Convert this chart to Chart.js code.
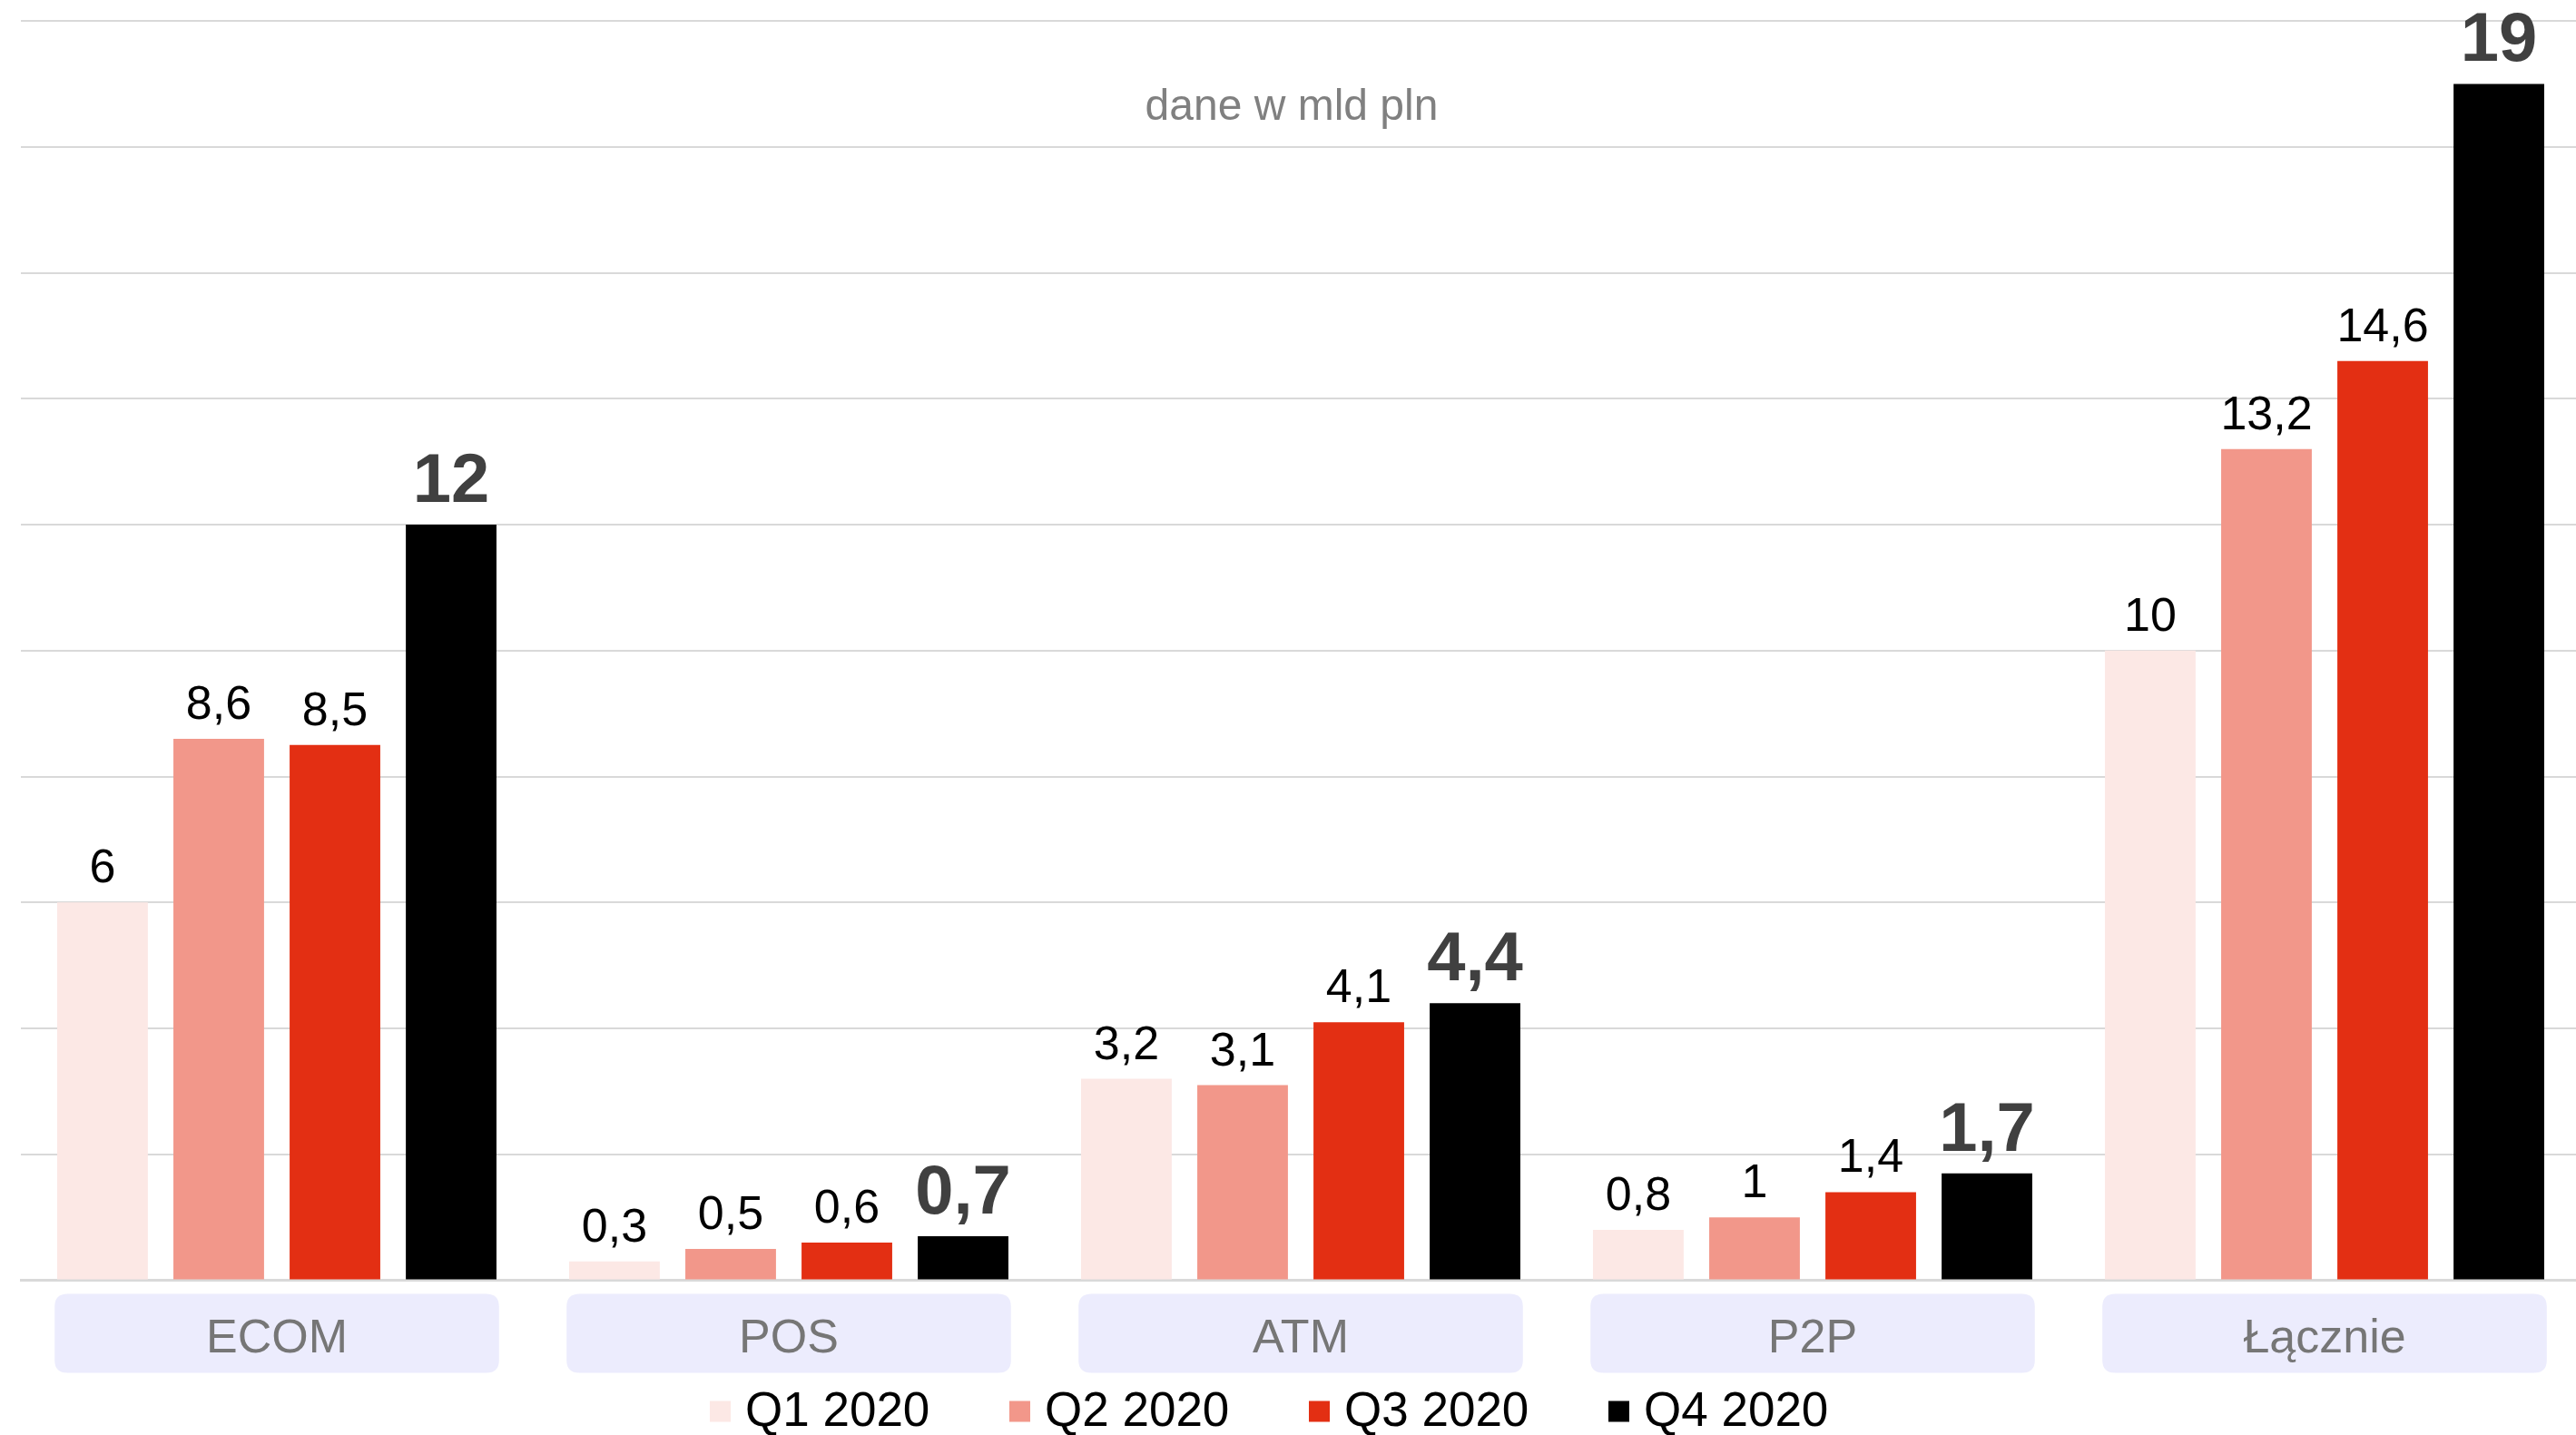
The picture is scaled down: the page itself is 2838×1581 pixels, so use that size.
<!DOCTYPE html>
<html>
<head>
<meta charset="utf-8">
<script src="https://cdn.jsdelivr.net/npm/chart.js@4/dist/chart.umd.min.js"></script>
<style>
  html, body { margin:0; padding:0; background:#ffffff; overflow:hidden; }
  #wrap { width:2843px; height:1581px; position:relative; }
</style>
</head>
<body>
<div id="wrap"><canvas id="kartyChart"></canvas></div>
<script>
// --- datos ---
const categorias = ['ECOM', 'POS', 'ATM', 'P2P', 'Łącznie'];
const etiquetas = ['Q1 2020', 'Q2 2020', 'Q3 2020', 'Q4 2020'];
const q1 = [6, 0.3, 3.2, 0.8, 10];
const q2 = [8.6, 0.5, 3.1, 1, 13.2];
const q3 = [8.5, 0.6, 4.1, 1.4, 14.6];
const q4 = [12, 0.7, 4.4, 1.7, 19];
const colores = ['#FCE8E5', '#F2978A', '#E32F13', '#000000'];
const yTicks = [0, 2, 4, 6, 8, 10, 12, 14, 16, 18, 20];
const subtitulo = 'dane w mld pln';

const FONT = '"Liberation Sans", Arial, sans-serif';

function fmt(v) {
  return String(v).replace('.', ',');
}

function roundRect(ctx, x, y, w, h, r) {
  ctx.beginPath();
  ctx.moveTo(x + r, y);
  ctx.lineTo(x + w - r, y);
  ctx.quadraticCurveTo(x + w, y, x + w, y + r);
  ctx.lineTo(x + w, y + h - r);
  ctx.quadraticCurveTo(x + w, y + h, x + w - r, y + h);
  ctx.lineTo(x + r, y + h);
  ctx.quadraticCurveTo(x, y + h, x, y + h - r);
  ctx.lineTo(x, y + r);
  ctx.quadraticCurveTo(x, y, x + r, y);
  ctx.closePath();
}

// cajas lila detras de las etiquetas del eje X
const cajasPlugin = {
  id: 'cajas',
  beforeDraw(chart) {
    const ctx = chart.ctx;
    const xs = chart.scales.x;
    const ca = chart.chartArea;
    const ancho = (ca.right - ca.left) / categorias.length * 0.868;
    ctx.save();
    ctx.fillStyle = '#ECECFD';
    categorias.forEach((c, i) => {
      const cx = xs.getPixelForValue(i);
      roundRect(ctx, cx - ancho / 2, ca.bottom + 15, ancho, 87, 14);
      ctx.fill();
    });
    ctx.restore();
  }
};

// valores encima de las barras + subtitulo
const valoresPlugin = {
  id: 'valores',
  afterDatasetsDraw(chart) {
    const ctx = chart.ctx;
    ctx.save();
    ctx.textAlign = 'center';
    ctx.textBaseline = 'alphabetic';
    chart.data.datasets.forEach((ds, di) => {
      const meta = chart.getDatasetMeta(di);
      const ultimo = di === chart.data.datasets.length - 1;
      ctx.font = ultimo ? 'bold 76px ' + FONT : '52px ' + FONT;
      ctx.fillStyle = ultimo ? '#404040' : '#000000';
      meta.data.forEach((bar, i) => {
        ctx.fillText(fmt(ds.data[i]), bar.x, bar.y - (ultimo ? 25 : 22));
      });
    });
    const ca = chart.chartArea;
    ctx.font = '48px ' + FONT;
    ctx.fillStyle = '#808080';
    ctx.fillText(subtitulo, 1423, ca.top + 109);
    ctx.restore();
  }
};

// leyenda propia abajo
const leyendaPlugin = {
  id: 'leyenda',
  afterDraw(chart) {
    const ctx = chart.ctx;
    const caja = 23, sep = 16, paso = 330;
    ctx.save();
    ctx.font = '53px ' + FONT;
    ctx.textBaseline = 'middle';
    ctx.textAlign = 'left';
    const ds = chart.data.datasets;
    let x = 782;
    const y = 1555;
    ds.forEach((d) => {
      ctx.fillStyle = d.backgroundColor;
      ctx.fillRect(x, y - caja / 2, caja, caja);
      ctx.fillStyle = '#000000';
      ctx.fillText(d.label, x + caja + sep, y + 1);
      x += paso;
    });
    ctx.restore();
  }
};

const series = [q1, q2, q3, q4];
const ctx = document.getElementById('kartyChart').getContext('2d');
new Chart(ctx, {
  type: 'bar',
  data: {
    labels: categorias,
    datasets: series.map((s, i) => ({
      label: etiquetas[i],
      data: s,
      backgroundColor: colores[i],
      borderWidth: 0,
      categoryPercentage: 0.908,
      barPercentage: 0.78
    }))
  },
  options: {
    animation: false,
    responsive: true,
    maintainAspectRatio: false,
    layout: { padding: { top: 23, left: 23, right: 0, bottom: 40 } },
    scales: {
      x: {
        grid: { display: false, drawTicks: false, tickLength: 0 },
        border: { display: true, color: '#D9D9D9', width: 3 },
        ticks: {
          color: '#767676',
          padding: 34,
          font: { family: FONT, size: 52 }
        }
      },
      y: {
        min: 0,
        max: 20,
        afterBuildTicks: (axis) => { axis.ticks = yTicks.map(v => ({ value: v })); },
        grid: { color: '#D9D9D9', lineWidth: 2, drawTicks: false, tickLength: 0 },
        border: { display: false },
        ticks: { display: false }
      }
    },
    plugins: {
      legend: { display: false },
      tooltip: { enabled: false }
    }
  },
  plugins: [cajasPlugin, valoresPlugin, leyendaPlugin]
});
</script>
</body>
</html>
